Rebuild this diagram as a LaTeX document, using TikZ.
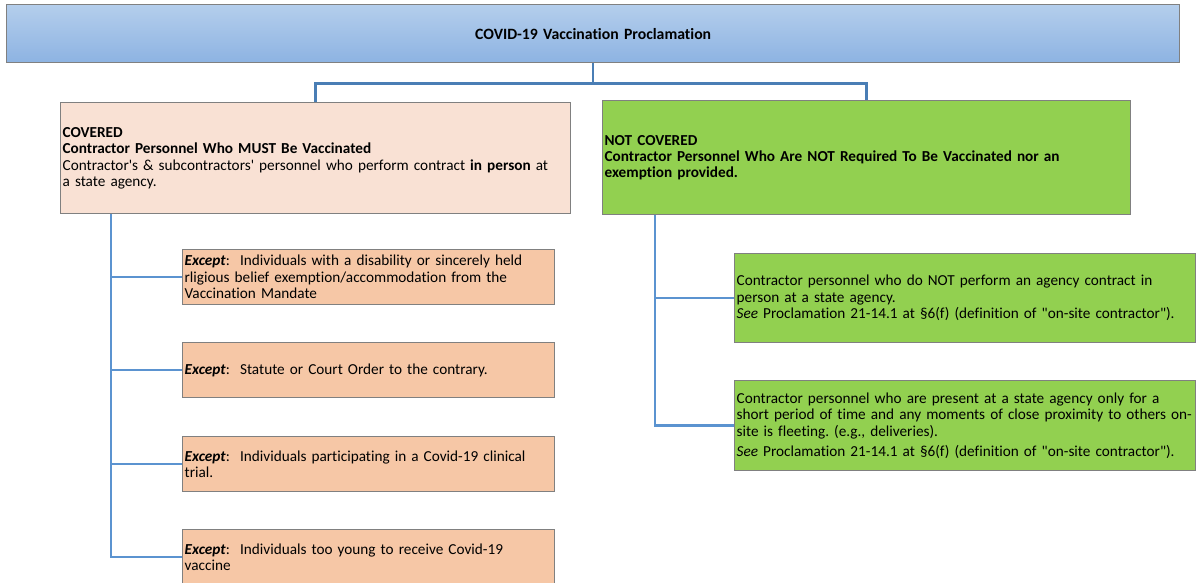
\documentclass[tikz,border=0pt]{standalone}
\usepackage{fontspec}
\setmainfont{Carlito}[Ligatures={TeXOff,CommonOff}]
\frenchspacing
\definecolor{bordergray}{HTML}{808080}
\definecolor{topA}{HTML}{B4CEEC}
\definecolor{topB}{HTML}{8DB3E2}
\definecolor{peachlight}{HTML}{F9E1D4}
\definecolor{peach}{HTML}{F6C7A6}
\definecolor{leafgreen}{HTML}{92D050}
\definecolor{linkblue}{HTML}{4A7EB5}
\definecolor{trunkblue}{HTML}{5B93D0}
\newcommand\oneline[1]{\mbox{#1}}
\begin{document}
\begin{tikzpicture}[x=1bp,y=-1bp,
  box/.style={draw=bordergray, line width=1.3bp, inner xsep=2bp, inner ysep=0bp,
    align=left, anchor=north west, font=\fontsize{15.3}{16.5}\selectfont\frenchspacing},
  link/.style={draw=linkblue, line width=2.6bp},
  trunk/.style={draw=trunkblue, line width=2.6bp}]
\useasboundingbox (0,0) rectangle (1196,583);
\clip (0,0) rectangle (1196,583);
% top box
\node[box, top color=topA, bottom color=topB, minimum width=1173bp, minimum height=58bp,
  text width=1169bp, align=center, font=\fontsize{15.8}{17}\selectfont\bfseries] (top) at (6,4)
  {COVID-19 Vaccination Proclamation};
% main boxes
\node[box, fill=peachlight, minimum width=510bp, minimum height=111bp, text width=506bp] (lm) at (60,102)
  {\oneline{\textbf{COVERED}}\\
   \oneline{\textbf{Contractor Personnel Who MUST Be Vaccinated}}\\
   \oneline{Contractor's \& subcontractors' personnel who perform contract \textbf{in person} at}\\
   \oneline{a state agency.}};
\node[box, fill=leafgreen, minimum width=528bp, minimum height=114bp, text width=524bp] (rm) at (602,100)
  {\oneline{\textbf{NOT COVERED}}\\
   \oneline{\textbf{Contractor Personnel Who Are NOT Required To Be Vaccinated nor an}}\\
   \oneline{\textbf{exemption provided.}}};
% exceptions
\node[box, fill=peach, minimum width=372bp, minimum height=55bp, text width=368bp] (e1) at (182,249)
  {\oneline{\textbf{\textit{Except}}:\ \ Individuals with a disability or sincerely held}\\
   \oneline{rligious belief exemption/accommodation from the}\\
   \oneline{Vaccination Mandate}};
\node[box, fill=peach, minimum width=372bp, minimum height=55bp, text width=368bp] (e2) at (182,342)
  {\oneline{\textbf{\textit{Except}}:\ \ Statute or Court Order to the contrary.}};
\node[box, fill=peach, minimum width=372bp, minimum height=55bp, text width=368bp] (e3) at (182,436)
  {\oneline{\textbf{\textit{Except}}:\ \ Individuals participating in a Covid-19 clinical}\\
   \oneline{trial.}};
\node[box, fill=peach, minimum width=372bp, minimum height=55bp, text width=368bp] (e4) at (182,529)
  {\oneline{\textbf{\textit{Except}}:\ \ Individuals too young to receive Covid-19}\\
   \oneline{vaccine}};
% not covered children
\node[box, fill=leafgreen, minimum width=461bp, minimum height=89bp, text width=457bp] (c1) at (734,253)
  {\oneline{Contractor personnel who do NOT perform an agency contract in}\\
   \oneline{person at a state agency.}\\
   \oneline{\textit{See} Proclamation 21-14.1 at §6(f) (definition of "on-site contractor").}};
\node[box, fill=leafgreen, minimum width=461bp, minimum height=90bp, text width=457bp] (c2) at (734,380)
  {\oneline{Contractor personnel who are present at a state agency only for a}\\
   \oneline{short period of time and any moments of close proximity to others on-}\\
   \oneline{site is fleeting. (e.g., deliveries).}\\[4bp]
   \oneline{\textit{See} Proclamation 21-14.1 at §6(f) (definition of "on-site contractor").}};
% connectors
\coordinate (split) at ([yshift=-20bp]top.south);
\draw[link] (top.south) -- (split) -| (lm.north);
\draw[link] (split) -| (rm.north);
\foreach \e in {e1,e2,e3,e4}
  \draw[trunk] ([xshift=51bp]lm.south west) |- (\e.west);
\foreach \c in {c1,c2}
  \draw[trunk] ([xshift=53bp]rm.south west) |- (\c.west);
\end{tikzpicture}
\end{document}
